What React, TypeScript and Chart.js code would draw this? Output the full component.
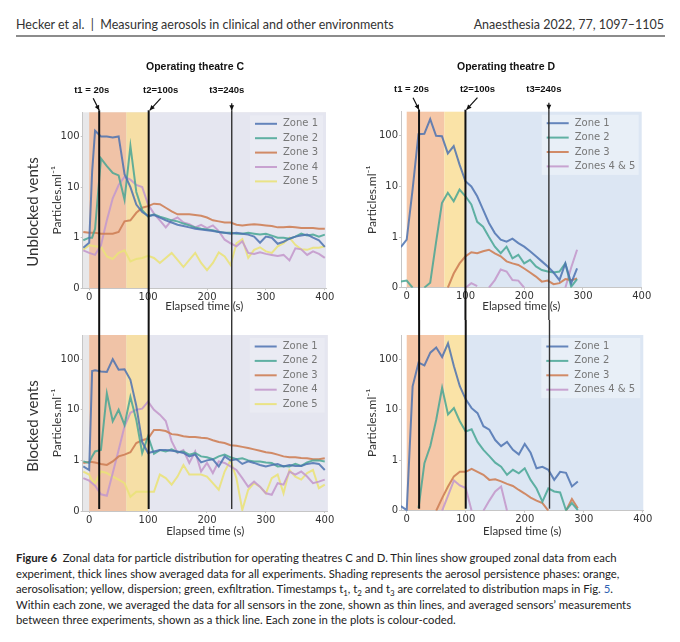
import { useEffect, useRef } from 'react';
import { Chart, LinearScale, registerables } from 'chart.js';

Chart.register(...registerables);

// symlog: linear between 0 and 1, then one decade per unit (as in the matplotlib figure)
const toSym = (v: number) => (v < 1 ? v : 1 + Math.log10(v));
const fromSym = (p: number) => (p < 1 ? p : Math.pow(10, p - 1));

class SymlogScale extends LinearScale {
  static id = 'symlog';
  static defaults = {};

  getPixelForValue(value: number) {
    if (value === null || value === undefined || Number.isNaN(value)) return NaN;
    const lo = toSym(this.min);
    const hi = toSym(this.max);
    return this.getPixelForDecimal((toSym(value) - lo) / (hi - lo));
  }

  getValueForPixel(pixel: number) {
    const lo = toSym(this.min);
    const hi = toSym(this.max);
    return fromSym(lo + this.getDecimalForPixel(pixel) * (hi - lo));
  }
}
Chart.register(SymlogScale);

// ---- data (particles per ml) ----
const timesC = [-10, 0, 5, 10, 20, 30, 40, 50, 60, 70, 80, 90, 100, 110, 120, 130, 140, 150, 160, 170, 180, 190, 200, 210, 220, 230, 240, 250, 260, 270, 280, 290, 300, 310, 320, 330, 340, 350, 360, 370, 380, 390, 400];
const timesD = [-10, 0, 10, 20, 30, 40, 50, 60, 70, 80, 90, 100, 110, 120, 130, 140, 150, 160, 170, 180, 190, 200, 210, 220, 230, 240, 250, 260, 270, 280, 290];

const unblockedC1 = [0.8, 0.9, 20, 130, 100, 100, 95, 100, 18, 10, 4.5, 3.2, 2.7, 2.8, 2.5, 2.2, 2.0, 1.8, 1.7, 1.6, 1.5, 1.45, 1.4, 1.35, 1.3, 1.25, 1.2, 1.25, 1.2, 1.15, 1.05, 0.9, 1.05, 1.0, 0.88, 0.92, 0.98, 1.05, 1.1, 1.15, 1.0, 0.95, 0.82];
const unblockedC2 = [0.95, 1.0, 1.0, 1.5, 37, 26, 19, 17, 5.6, 65, 8, 3.5, 2.6, 2.9, 2.6, 2.4, 2.2, 2.1, 1.9, 1.75, 1.6, 1.5, 1.45, 1.4, 1.3, 1.25, 1.25, 1.2, 1.2, 1.25, 1.2, 1.15, 1.2, 1.1, 1.0, 1.0, 0.98, 1.05, 1.2, 1.1, 1.15, 1.05, 1.15];
const unblockedC3 = [1.3, 1.25, 1.25, 1.25, 1.2, 1.2, 1.2, 1.3, 2.1, 2.2, 3.1, 3.9, 4.2, 4.7, 4.6, 3.9, 3.3, 2.9, 2.9, 2.9, 2.8, 2.7, 2.5, 2.2, 2.1, 2.0, 2.0, 1.8, 1.75, 1.8, 1.85, 1.8, 1.75, 1.7, 1.6, 1.6, 1.65, 1.6, 1.55, 1.55, 1.55, 1.5, 1.5];
const unblockedC4 = [0.75, 0.7, 0.68, 0.66, 0.85, 2.2, 6, 11, 16, 14, 11, 10, 4.5, 3.0, 2.2, 1.6, 2.2, 2.5, 2.0, 1.85, 1.6, 1.8, 1.55, 1.75, 1.35, 0.96, 0.89, 0.83, 0.93, 0.7, 0.68, 0.71, 0.68, 0.66, 0.64, 0.66, 0.55, 0.79, 0.77, 0.66, 0.73, 0.68, 0.6];
const unblockedC5 = [0.76, 0.85, 0.84, 0.83, 0.82, 0.63, 0.58, 0.7, 0.75, 0.53, 0.58, 0.6, 0.64, 0.6, 0.5, 0.6, 0.7, 0.56, 0.42, 0.56, 0.7, 0.5, 0.36, 0.5, 0.71, 0.63, 0.46, 0.89, 0.97, 0.6, 0.76, 0.81, 0.73, 0.7, 0.83, 0.89, 1.0, 0.86, 0.77, 0.76, 0.8, 0.8, 0.83];

const blockedC1 = [0.88, 0.81, 58, 60, 57, 56, 100, 62, 63, 39, 12, 2.3, 1.4, 1.5, 1.6, 1.6, 1.55, 1.5, 1.4, 1.2, 1.3, 0.96, 1.0, 1.05, 0.88, 1.2, 1.0, 1.05, 0.93, 0.98, 0.95, 0.91, 0.88, 0.91, 0.93, 0.88, 0.91, 0.89, 0.89, 0.93, 0.95, 0.93, 0.81];
const blockedC2 = [0.98, 0.95, 1.2, 1.5, 1.6, 21, 5.9, 10, 5, 18, 6.3, 1.4, 3.0, 1.35, 1.6, 1.5, 1.65, 1.45, 1.5, 1.3, 1.4, 1.2, 1.15, 1.05, 1.2, 1.3, 1.15, 1.05, 1.1, 1.0, 0.98, 0.98, 0.96, 0.95, 0.88, 0.89, 0.88, 0.93, 0.89, 0.96, 1.0, 1.0, 0.98];
const blockedC3 = [0.95, 0.97, 0.97, 0.96, 0.93, 0.91, 0.98, 1.2, 1.3, 1.45, 2.2, 2.5, 2.7, 4.0, 4.0, 3.8, 3.3, 3.2, 3.0, 2.9, 2.9, 2.8, 2.75, 2.5, 2.3, 2.2, 2.0, 1.95, 1.85, 1.75, 1.65, 1.55, 1.45, 1.4, 1.3, 1.2, 1.15, 1.15, 1.12, 1.1, 1.05, 1.05, 1.1];
const blockedC4 = [0.65, 0.6, 0.55, 0.5, 0.33, 0.3, 0.75, 1.6, 4.7, 8.7, 10, 10.5, 14.5, 10, 8, 6, 2.4, 1.4, 1.6, 0.95, 1.5, 0.78, 0.95, 0.75, 0.98, 0.95, 0.88, 0.81, 0.65, 0.48, 0.58, 0.48, 0.35, 0.32, 0.55, 0.52, 0.78, 0.72, 0.78, 0.68, 0.55, 0.58, 0.62];
const blockedC5 = [0.78, 0.72, 0.6, 0.55, 0.78, 0.75, 0.68, 0.62, 0.55, 0.28, 0.38, 0.38, 0.38, 0.38, 0.72, 0.65, 0.52, 0.68, 0.91, 0.72, 0.72, 0.72, 0.68, 0.55, 0.42, 0.78, 1.0, 0.65, 0.02, 0.42, 0.55, 0.48, 0.35, 0.65, 0.72, 0.35, 0.81, 0.68, 0.62, 0.75, 0.81, 0.45, 0.52];

const unblockedD1 = [0.8, 0.95, 8.7, 108, 110, 214, 100, 98, 45, 63, 27, 12.7, 10, 6.4, 3.5, 1.9, 1.2, 0.95, 0.91, 0.97, 0.88, 0.81, 0.72, 0.62, 0.52, 0.42, 0.3, 0.15, 0.48, 0.09, 0.38];
const unblockedD2 = [0.12, 0.14, 0, null, 0, 0.1, 0.9, 4.7, 7.5, 5.1, 8.7, 6.4, 4.4, 2.0, 1.6, 1.0, 0.81, 0.68, 0.81, 0.58, 0.65, 0.48, 0.55, 0.42, 0.35, 0.32, 0.3, 0.32, 0.48, 0.02, 0.17];
const unblockedD3 = [null, null, null, null, null, null, null, null, 0, 0.28, 0.48, 0.62, 0.7, 0.68, 0.72, 0.75, 0.68, 0.62, 0.52, 0.48, 0.45, 0.38, 0.3, 0.22, 0.12, 0.14, 0.07, 0.09, 0.17, 0.15, 0.18];
const unblockedD45 = [null, null, null, null, null, null, null, null, null, null, null, 0, 0.09, 0.03, null, 0, 0.15, 0.36, 0.32, 0.15, 0.14, 0, null, null, null, null, null, null, 0, 0.4, 0.75];

const blockedD1 = [0.09, 0.01, 29, 85, 75, 134, 170, 110, 205, 72, 29, 16, 10.7, 8.5, 4.7, 4.0, 2.5, 1.9, 2.3, 1.6, 1.3, 2.1, 1.4, 0.84, 0.87, 0.81, 0.61, 0.77, 0.75, 0.48, 0.58];
const blockedD2 = [null, null, null, 0.05, 0.94, 1.9, 6.3, 27, 8, 10.7, 5.9, 3.7, 4.1, 2.3, 1.6, 1.2, 0.95, 0.87, 0.71, 0.81, 0.74, 0.84, 0.61, 0.44, 0.18, 0.44, 0.38, 0.36, 0.01, 0.15, 0.01];
const blockedD3 = [null, null, null, null, null, null, 0, 0.25, 0.48, 0.68, 0.77, 0.77, 0.83, 0.77, 0.71, 0.61, 0.62, 0.58, 0.53, 0.49, 0.41, 0.34, 0.26, 0.2, 0.15, 0, null, null, 0, 0.23, 0.05];
const blockedD45 = [null, null, null, null, null, null, null, 0, 0.3, 0.6, 0.5, 0.45, 0, null, 0, 0.2, 0.38, 0.48, 0, null, null, null, null, null, null, null, null, null, null, null, null];

const zoneLabelsC = ['Zone 1', 'Zone 2', 'Zone 3', 'Zone 4', 'Zone 5'];
const zoneLabelsD = ['Zone 1', 'Zone 2', 'Zone 3', 'Zones 4 & 5'];
const zoneColors = ['rgba(76,114,176,0.85)', 'rgba(72,166,148,0.85)', 'rgba(206,128,86,0.9)', 'rgba(196,154,204,0.9)', 'rgba(234,226,122,0.9)'];

const xTickValues = [0, 100, 200, 300, 400];
const yTickValues = [0, 1, 10, 100];
const yMax = 300;

// phase starts: aerosolisation, dispersion, exfiltration
const phaseStartsC = [0, 63, 100];
const phaseStartsD = [0, 64, 100];
const phaseColorsC = ['#f0c3a7', '#f6dfa6', '#e5e6f0'];
const phaseColorsD = ['#f5c7a8', '#fae3a7', '#dce6f3'];

const markerTimesC = [17, 101, 242];
const markerTimesD = [21, 100, 242];
const markerLabels = ['t1 = 20s', 't2=100s', 't3=240s'];
const markerWidths = [2, 2, 1.4];
const markerColors = ['#111', '#111', '#333'];

type Row = 'top' | 'bottom';

interface Panel {
  key: string;
  row: Row;
  left: number;
  top: number;
  width: number;
  height: number;
  times: number[];
  values: (number | null)[][];
  labels: string[];
  xMin: number;
  xMax: number;
  padTop: number;
  padRight: number;
  yWidth: number;
  xHeight: number;
  yTitlePad: number;
  baseColor: string;
  phaseStarts: number[];
  phaseColors: string[];
  markers: number[];
  legendOffset: number;
  legendFill: string;
}

const panels: Panel[] = [
  {
    key: 'unblocked-C', row: 'top', left: 0, top: 50, width: 340, height: 270,
    times: timesC, values: [unblockedC1, unblockedC2, unblockedC3, unblockedC4, unblockedC5], labels: zoneLabelsC,
    xMin: -11, xMax: 402, padTop: 62.3, padRight: 14, yWidth: 82.7, xHeight: 31.7, yTitlePad: 49.5,
    baseColor: '#e8e8ea', phaseStarts: phaseStartsC, phaseColors: phaseColorsC, markers: markerTimesC,
    legendOffset: 71, legendFill: 'rgba(255,255,255,0.2)',
  },
  {
    key: 'unblocked-D', row: 'top', left: 340, top: 50, width: 340, height: 270,
    times: timesD, values: [unblockedD1, unblockedD2, unblockedD3, unblockedD45], labels: zoneLabelsD,
    xMin: -9.7, xMax: 400, padTop: 61.7, padRight: 38.3, yWidth: 61, xHeight: 32.3, yTitlePad: 24.5,
    baseColor: '#ffffff', phaseStarts: phaseStartsD, phaseColors: phaseColorsD, markers: markerTimesD,
    legendOffset: 95, legendFill: 'rgba(255,255,255,0.35)',
  },
  {
    key: 'blocked-C', row: 'bottom', left: 0, top: 320, width: 340, height: 225,
    times: timesC, values: [blockedC1, blockedC2, blockedC3, blockedC4, blockedC5], labels: zoneLabelsC,
    xMin: -11, xMax: 405, padTop: 15, padRight: 12.3, yWidth: 82.7, xHeight: 34, yTitlePad: 49.5,
    baseColor: '#e8e8ea', phaseStarts: phaseStartsC, phaseColors: phaseColorsC, markers: markerTimesC,
    legendOffset: 73, legendFill: 'rgba(255,255,255,0.2)',
  },
  {
    key: 'blocked-D', row: 'bottom', left: 340, top: 320, width: 340, height: 225,
    times: timesD, values: [blockedD1, blockedD2, blockedD3, blockedD45], labels: zoneLabelsD,
    xMin: -9.7, xMax: 401, padTop: 15, padRight: 36.7, yWidth: 61, xHeight: 34.3, yTitlePad: 24.5,
    baseColor: '#ffffff', phaseStarts: phaseStartsD, phaseColors: phaseColorsD, markers: markerTimesD,
    legendOffset: 97, legendFill: 'rgba(255,255,255,0.35)',
  },
];

// label / arrow offsets for the t1, t2, t3 call-outs
const labelDx = [-7.5, 12, -5];
const arrowDx = [-6, 12, 0];
const arrowDy = [-14, -14, -9];
const tipDx = [0, 1, 0];

function decorPlugin(p: Panel) {
  return {
    id: 'panelDecor',
    beforeDraw(chart: Chart) {
      const { ctx, chartArea: a } = chart;
      const x = chart.scales.x;
      ctx.save();
      ctx.fillStyle = p.baseColor;
      ctx.fillRect(a.left, a.top, a.right - a.left, a.bottom - a.top);
      p.phaseStarts.forEach((start, i) => {
        const x0 = x.getPixelForValue(start);
        const x1 = i + 1 < p.phaseStarts.length ? x.getPixelForValue(p.phaseStarts[i + 1]) : a.right;
        ctx.fillStyle = p.phaseColors[i];
        ctx.fillRect(x0, a.top, x1 - x0, a.bottom - a.top);
      });
      ctx.restore();
    },
    afterDraw(chart: Chart) {
      const { ctx, chartArea: a } = chart;
      const x = chart.scales.x;
      ctx.save();

      // legend inside the plot, top right
      const lx = a.right - p.legendOffset;
      const ly = a.top + 11.5;
      const rowH = 14.4;
      ctx.fillStyle = p.legendFill;
      ctx.fillRect(lx - 5, a.top + 3, a.right - 3 - (lx - 5), (p.labels.length - 1) * rowH + 17);
      ctx.font = '10px "DejaVu Sans"';
      ctx.textBaseline = 'middle';
      ctx.textAlign = 'left';
      p.labels.forEach((label, i) => {
        const y = ly + i * rowH;
        ctx.strokeStyle = zoneColors[i];
        ctx.lineWidth = 2;
        ctx.beginPath();
        ctx.moveTo(lx, y);
        ctx.lineTo(lx + 22, y);
        ctx.stroke();
        ctx.fillStyle = '#777';
        ctx.fillText(label, lx + 28, y);
      });

      // timestamp lines, running across both rows
      p.markers.forEach((t, i) => {
        const px = x.getPixelForValue(t);
        ctx.strokeStyle = markerColors[i];
        ctx.lineWidth = markerWidths[i];
        ctx.beginPath();
        ctx.moveTo(px, p.row === 'top' ? a.top - 2 : 0);
        ctx.lineTo(px, p.row === 'top' ? chart.height : a.bottom - 2);
        ctx.stroke();

        if (p.row !== 'top') return;
        ctx.fillStyle = '#111';
        ctx.font = 'bold 9.5px "Liberation Sans", Arial';
        ctx.textAlign = 'center';
        ctx.fillText(markerLabels[i], px + labelDx[i], a.top - 22);

        const sx = px + arrowDx[i];
        const sy = a.top + arrowDy[i];
        const ex = px + tipDx[i];
        const ey = a.top - 2;
        ctx.strokeStyle = '#111';
        ctx.lineWidth = 1.2;
        ctx.beginPath();
        ctx.moveTo(sx, sy);
        ctx.lineTo(ex, ey);
        ctx.stroke();
        const ang = Math.atan2(ey - sy, ex - sx);
        ctx.beginPath();
        ctx.moveTo(ex, ey);
        ctx.lineTo(ex - 5 * Math.cos(ang) + 2.4 * Math.sin(ang), ey - 5 * Math.sin(ang) - 2.4 * Math.cos(ang));
        ctx.lineTo(ex - 5 * Math.cos(ang) - 2.4 * Math.sin(ang), ey - 5 * Math.sin(ang) + 2.4 * Math.cos(ang));
        ctx.closePath();
        ctx.fill();
      });
      ctx.restore();
    },
  };
}

function PanelChart({ panel }: { panel: Panel }) {
  const canvasRef = useRef<HTMLCanvasElement>(null);

  useEffect(() => {
    if (!canvasRef.current) return;
    const p = panel;
    const axisColor = '#c6c6c6';
    const chart = new Chart(canvasRef.current, {
      type: 'line',
      data: {
        datasets: p.values.map((vals, i) => ({
          label: p.labels[i],
          data: p.times.map((t, j) => ({ x: t, y: vals[j] })),
          borderColor: zoneColors[i],
          borderWidth: 2,
          pointRadius: 0,
          tension: 0,
          spanGaps: false,
        })),
      },
      options: {
        responsive: false,
        animation: false,
        events: [],
        layout: { padding: { left: 0, top: p.padTop, right: p.padRight, bottom: 0 } },
        plugins: { legend: { display: false }, tooltip: { enabled: false }, title: { display: false } },
        scales: {
          x: {
            type: 'linear',
            min: p.xMin,
            max: p.xMax,
            afterBuildTicks: (s: any) => {
              s.ticks = xTickValues.map((v) => ({ value: v }));
            },
            afterFit: (s: any) => {
              s.height = p.xHeight;
            },
            ticks: { color: '#333', font: { size: 10 }, padding: 1, maxRotation: 0, autoSkip: false, callback: (v: any) => String(v) },
            grid: { display: true, drawOnChartArea: false, drawTicks: true, tickLength: 2, tickColor: axisColor },
            border: { display: true, color: axisColor },
            title: {
              display: true,
              text: 'Elapsed time (s)',
              color: '#333',
              font: { family: 'Lato', size: 11.5 },
              padding: { top: 0, bottom: 6.4 },
            },
          },
          y: {
            type: 'symlog' as any,
            min: 0,
            max: yMax,
            afterBuildTicks: (s: any) => {
              s.ticks = yTickValues.map((v) => ({ value: v }));
            },
            afterFit: (s: any) => {
              s.width = p.yWidth;
            },
            ticks: { color: '#333', font: { size: 10 }, padding: 1, callback: (v: any) => String(v) },
            grid: { display: true, drawOnChartArea: false, drawTicks: true, tickLength: 2, tickColor: axisColor },
            border: { display: true, color: axisColor },
            title: {
              display: true,
              text: 'Particles.ml⁻¹',
              color: '#333',
              font: { family: 'Lato', size: 12 },
              padding: { top: p.yTitlePad, bottom: 0 },
            },
          },
        },
      },
      plugins: [decorPlugin(p)],
    });
    return () => {
      chart.destroy();
    };
  }, [panel]);

  return (
    <div style={{ position: 'absolute', left: panel.left, top: panel.top, width: panel.width, height: panel.height }}>
      <canvas ref={canvasRef} width={panel.width} height={panel.height} />
    </div>
  );
}

const columnTitles = [
  { text: 'Operating theatre C', x: 195 },
  { text: 'Operating theatre D', x: 506 },
];
const rowLabels = [
  { text: 'Unblocked vents', y: 212 },
  { text: 'Blocked vents', y: 426 },
];

export default function App() {
  Chart.defaults.font.family = '"DejaVu Sans", sans-serif';

  const centred = (x: number, y: number, extra: object = {}) => ({
    position: 'absolute' as const,
    left: x,
    top: y,
    whiteSpace: 'nowrap' as const,
    transform: 'translate(-50%, -50%)',
    ...extra,
  });

  return (
    <div style={{ position: 'absolute', left: 0, top: 0, width: 680, height: 642, background: '#fff', fontFamily: 'Lato, sans-serif', color: '#222', overflow: 'hidden' }}>
      <div style={{ position: 'absolute', left: 16, top: 17, fontSize: 12.5, color: '#333', whiteSpace: 'nowrap' }}>
        Hecker et al.&nbsp; |&nbsp; Measuring aerosols in clinical and other environments
      </div>
      <div style={{ position: 'absolute', right: 16, top: 17, fontSize: 12.5, color: '#333', whiteSpace: 'nowrap' }}>
        Anaesthesia 2022, 77, 1097–1105
      </div>
      <div style={{ position: 'absolute', left: 16, top: 35, width: 649, height: 1.5, background: '#8c8c8c' }} />

      {panels.map((p) => (
        <PanelChart key={p.key} panel={p} />
      ))}

      {columnTitles.map((c) => (
        <div key={c.text} style={centred(c.x, 66, { fontFamily: '"Liberation Sans", Arial, sans-serif', fontWeight: 'bold', fontSize: 10.5, color: '#111' })}>
          {c.text}
        </div>
      ))}
      {rowLabels.map((r) => (
        <div key={r.text} style={centred(32, r.y, { fontSize: 15, color: '#333', transform: 'translate(-50%, -50%) rotate(-90deg)' })}>
          {r.text}
        </div>
      ))}

      <div style={{ position: 'absolute', left: 16, top: 550, fontSize: 11.3, lineHeight: '15.5px', color: '#222', whiteSpace: 'nowrap' }}>
        <b>Figure 6</b>&nbsp; Zonal data for particle distribution for operating theatres C and D. Thin lines show grouped zonal data from each
        <br />
        experiment, thick lines show averaged data for all experiments. Shading represents the aerosol persistence phases: orange,
        <br />
        aerosolisation; yellow, dispersion; green, exfiltration. Timestamps t<sub style={{ fontSize: '0.7em', lineHeight: 0 }}>1</sub>, t
        <sub style={{ fontSize: '0.7em', lineHeight: 0 }}>2</sub> and t<sub style={{ fontSize: '0.7em', lineHeight: 0 }}>3</sub> are correlated to distribution maps in Fig.{' '}
        <span style={{ color: '#2f5fb3' }}>5</span>.
        <br />
        Within each zone, we averaged the data for all sensors in the zone, shown as thin lines, and averaged sensors’ measurements
        <br />
        between three experiments, shown as a thick line. Each zone in the plots is colour-coded.
      </div>
    </div>
  );
}
